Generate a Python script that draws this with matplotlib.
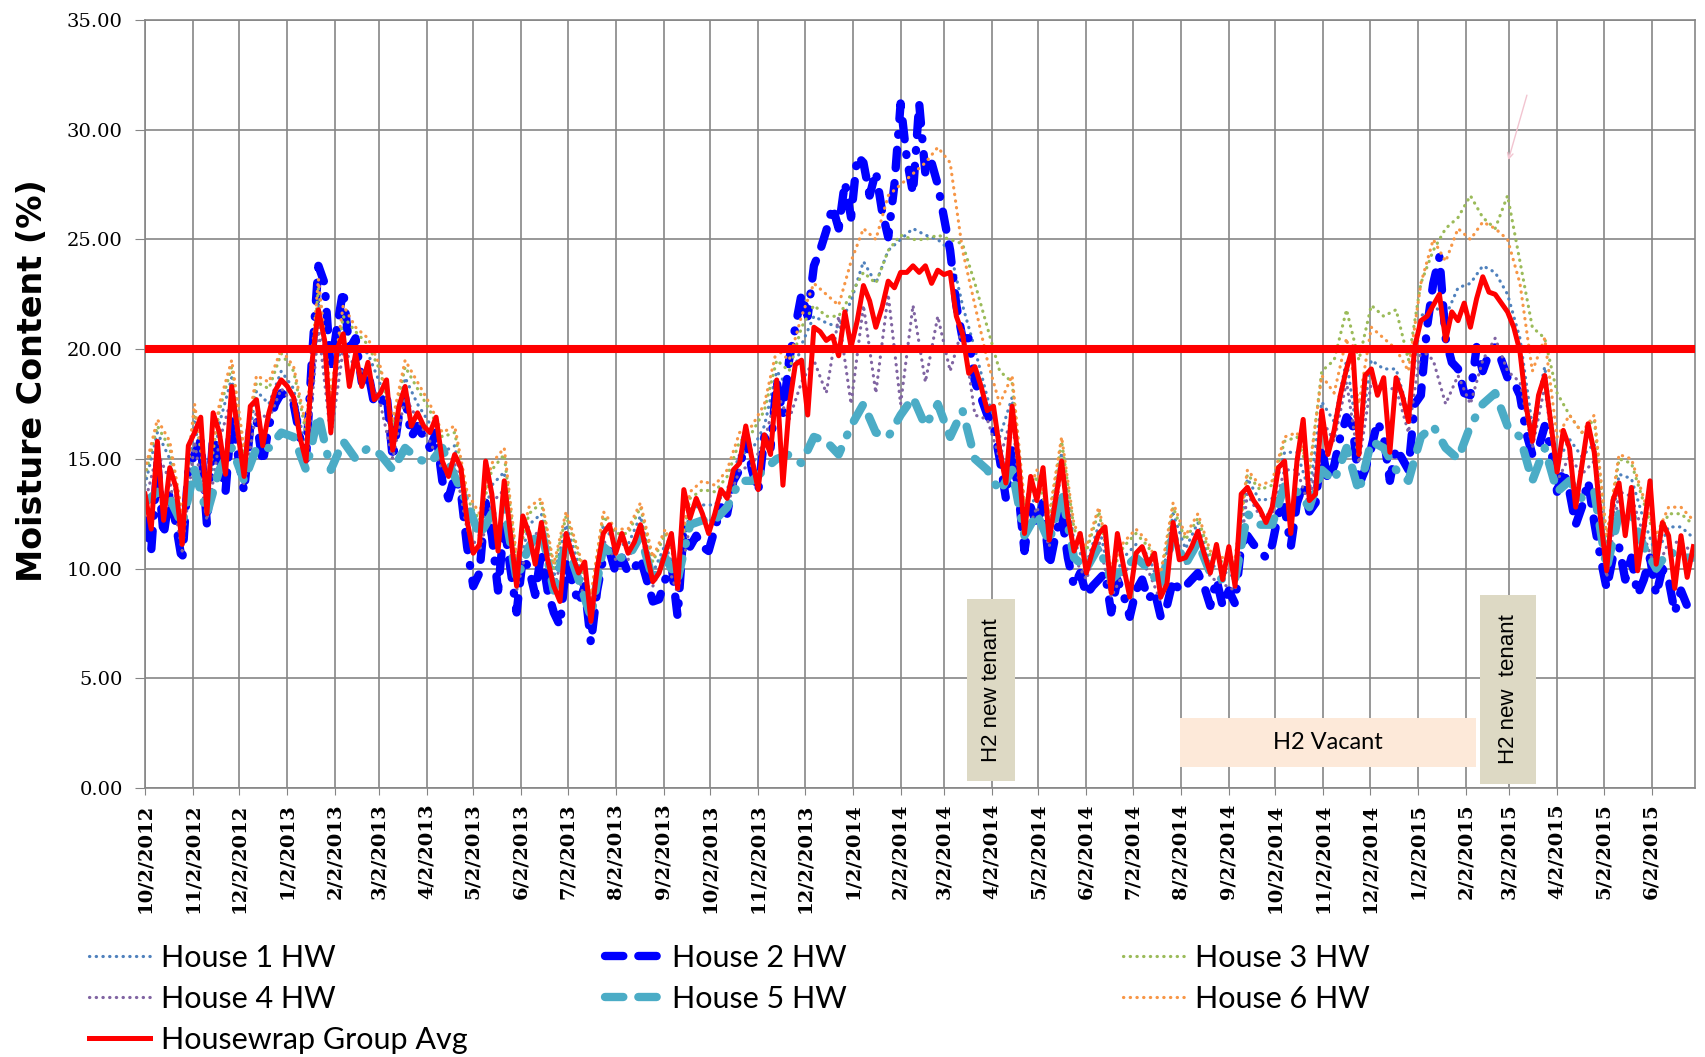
import datetime as dt
import numpy as np
import matplotlib.pyplot as plt
import matplotlib.dates as mdates
from matplotlib.patches import Rectangle

# readings taken off the chart: group avg + house 2 every 4 days, others every 8 days
start = mdates.date2num(dt.date(2012, 10, 2))

avg_hw = [
    13.4, 11.8, 15.8, 12.2, 14.6, 13.7, 11.1, 15.6, 16.2, 16.9,
    12.5, 17.1, 16.2, 14.3, 18.3, 16.2, 14.2, 17.4, 17.7, 15.6,
    17.1, 18.1, 18.6, 18.3, 17.8, 16.0, 14.9, 19.5, 21.8, 20.4,
    16.2, 20.0, 20.7, 18.3, 19.8, 18.3, 19.4, 17.7, 18.0, 18.6,
    15.4, 17.4, 18.3, 16.5, 17.1, 16.5, 16.2, 16.9, 14.9, 14.2,
    15.2, 14.6, 12.2, 10.7, 11.1, 14.9, 13.4, 10.8, 14.0, 11.6,
    9.2, 12.4, 11.6, 10.2,
    12.1, 10.4, 9.2, 8.5, 11.6, 10.6, 9.8, 10.3, 7.6, 10.0,
    11.6, 12.0, 10.7, 11.6, 10.7, 11.2, 12.0, 10.7, 9.4, 9.8,
    10.7, 11.6, 9.1, 13.6, 12.3, 13.2, 12.5, 11.6, 12.5, 13.6,
    13.2, 14.5, 14.8, 16.5, 15.0, 13.6, 16.1, 15.2, 18.6, 13.8,
    17.4, 19.3, 19.5, 17.0, 21.0, 20.8, 20.4, 20.6, 19.7, 21.7,
    20.1, 21.3, 22.9, 22.2, 21.0, 21.9, 23.1, 22.8, 23.5, 23.5,
    23.8, 23.5, 23.8,
    23.0, 23.6, 23.4, 23.5, 21.5, 20.7, 18.9, 19.2, 18.3, 17.2,
    17.4, 15.4, 13.9, 17.4, 15.0, 11.6, 14.2, 13.1, 14.6, 11.3,
    13.1, 14.9, 12.4, 10.8, 11.6, 9.8, 10.8, 11.6, 11.9, 8.9,
    11.6, 10.1, 8.7, 10.7, 11.0, 10.2, 10.7, 8.7, 9.3, 12.1,
    10.4, 10.5, 11.0, 11.7, 10.7, 9.8, 11.1, 9.5, 11.0, 9.2,
    13.4, 13.7, 13.1, 12.7, 12.1, 12.8, 14.6, 14.9, 11.6, 14.9,
    16.8, 13.1,
    13.4, 17.2, 15.2, 16.3, 17.9, 19.1, 20.1, 15.2, 18.8, 19.1,
    17.9, 18.7, 15.3, 18.7, 17.9, 16.7, 20.1, 21.3, 21.5, 22.0,
    22.5, 20.4, 21.7, 21.3, 22.1, 21.0, 22.3, 23.3, 22.6, 22.5,
    22.1, 21.7, 21.0, 19.9, 17.4, 15.8, 17.9, 18.8, 16.6, 14.4,
    16.3, 15.5, 12.8, 14.7, 16.6, 15.3, 12.3, 9.9, 13.1, 13.9,
    11.5, 13.7, 9.9, 11.8, 14.0, 10.2, 12.1, 11.5, 9.1, 11.5,
    9.6, 11.0]

house2 = [
    12.2, 10.8, 14.8, 11.5, 13.5, 12.0, 10.3, 14.5, 15.2, 15.8,
    12.0, 16.0, 15.0, 13.5, 17.0, 15.2, 13.5, 16.5, 16.8, 14.8,
    16.5, 17.5, 18.0, 17.8, 17.5, 16.0, 15.0, 19.8, 23.8, 23.0,
    19.0, 21.0, 22.7, 20.0, 20.5, 18.5, 19.0, 17.5, 17.5, 18.0,
    15.0, 17.0, 17.8, 16.0, 16.5, 16.0, 15.5, 16.2, 14.0, 13.2,
    14.2, 13.5, 11.0, 9.2, 9.8, 13.0, 11.5, 9.0, 12.0, 10.0,
    8.0, 10.5, 10.0, 8.8,
    10.8, 9.0, 8.0, 7.4, 10.2, 9.4, 8.4, 9.2, 6.6, 9.0,
    10.5, 10.8, 9.8, 10.5, 9.8, 10.0, 10.5, 9.5, 8.5, 8.6,
    9.5, 10.2, 7.8, 12.0, 11.0, 11.5, 11.0, 10.8, 11.8, 12.8,
    12.5, 14.0, 14.5, 16.0, 14.5, 13.5, 16.0, 15.5, 18.5, 17.0,
    19.5, 21.0, 22.5, 21.5, 23.8, 24.5, 25.4, 26.5, 25.5, 27.6,
    26.0, 28.8, 28.5, 27.0, 28.1, 26.3, 25.1, 27.5, 31.2, 28.7,
    27.1, 31.2, 28.0,
    28.5, 27.5, 26.0, 24.5, 22.0, 20.5, 20.5, 18.5, 17.8, 17.0,
    16.5, 15.0, 13.2, 15.5, 13.5, 10.8, 12.8, 12.0, 13.0, 10.1,
    11.5, 12.5, 10.5, 9.2, 9.8, 8.8, 9.2, 9.5, 9.8, 8.0,
    9.5, 8.8, 7.8, 9.0, 9.5, 8.6, 9.0, 7.8, 8.3, 9.5,
    9.0, 9.2, 9.5, 9.8, 9.2, 8.3, 9.5, 8.3, 9.0, 8.4,
    11.1, 11.5, 11.1, 10.8, 10.5, 11.1, 12.5, 12.8, 11.0, 13.0,
    13.8, 12.6,
    13.0, 15.5, 14.0, 14.7, 16.0, 16.9, 16.5, 13.8, 14.5, 15.5,
    16.7, 16.0, 14.0, 15.5, 15.0, 14.5, 17.5, 17.9, 21.0, 23.0,
    24.2, 20.5, 19.4, 19.1, 18.0, 17.9, 20.1, 19.0, 19.8, 20.1,
    19.5, 18.7, 18.5, 17.9, 16.2, 15.2, 15.5, 16.5, 15.5, 13.5,
    14.5, 13.5, 12.0, 12.8, 14.0, 12.1, 10.5, 9.1, 10.5, 11.0,
    9.5, 10.5, 8.8, 9.5, 10.5, 8.8, 10.0, 9.5, 8.0, 9.0,
    8.3, 8.8]

house1 = [
    13.8, 16.2, 15.0, 11.5, 16.7, 12.9, 16.6, 18.7, 14.6, 18.1, 17.5, 19.0, 18.2, 15.3, 22.3, 16.6,
    21.1, 20.2, 19.8, 18.4, 15.8, 18.7, 17.5, 16.6, 15.3, 15.6, 12.6, 11.5, 13.8, 14.4, 9.6, 12.0,
    12.5, 9.6, 12.0, 10.2, 8.0, 12.0, 11.1, 11.1, 12.4, 9.8, 11.1, 9.5, 12.7, 12.9, 12.9, 13.6,
    15.2, 15.4, 16.5, 19.0, 18.2, 20.2, 21.5, 21.2, 21.0, 22.2, 24.0, 23.0, 24.5, 25.0, 25.5, 25.2,
    25.0, 24.5, 22.0, 20.0, 17.8, 16.0, 17.8, 12.0, 13.5, 11.7, 15.3, 11.2, 10.2, 12.0, 9.3, 10.5,
    11.1, 10.6, 9.1, 12.5, 10.9, 12.1, 10.2, 9.9, 9.6, 14.1, 13.1, 13.2, 15.3, 15.3, 13.5,
    17.6, 16.7, 19.5, 15.6, 19.5, 19.1, 19.1, 17.1, 21.5, 22.0, 21.5, 22.8, 23.0, 23.8, 23.5, 22.5,
    20.5, 16.5, 19.2, 14.8, 15.9, 15.1, 15.7, 10.3, 14.3, 14.1, 12.2, 10.6, 11.9, 11.9, 11.4]

house3 = [
    14.2, 16.5, 15.5, 12.2, 17.2, 13.5, 17.2, 19.2, 15.2, 18.5, 18.2, 19.8, 19.0, 16.2, 22.8, 17.8,
    21.5, 20.8, 20.2, 19.0, 16.5, 19.2, 18.2, 17.2, 16.0, 16.2, 13.2, 12.2, 14.5, 15.2, 10.2, 12.5,
    13.0, 10.0, 12.4, 10.6, 8.5, 12.4, 11.6, 11.6, 12.8, 10.3, 11.6, 10.0, 13.2, 13.6, 13.5, 14.2,
    15.8, 16.2, 17.2, 19.5, 19.0, 21.0, 22.0, 21.5, 21.5, 22.5, 23.5, 23.0, 24.5, 25.2, 25.0, 25.0,
    25.2, 25.0, 24.8, 23.0, 21.0, 19.0, 18.5, 12.8, 14.2, 12.3, 15.8, 11.8, 10.8, 12.6, 9.8, 11.0,
    11.6, 11.0, 9.6, 12.8, 11.3, 12.3, 10.6, 10.3, 10.3, 14.3, 13.6, 13.8, 15.8, 16.0, 14.3,
    19.0, 19.5, 21.8, 19.5, 22.0, 21.5, 21.8, 19.5, 23.0, 24.5, 25.5, 26.0, 27.0, 26.0, 25.5, 27.0,
    24.0, 21.0, 20.5, 18.0, 17.0, 16.2, 16.8, 11.2, 15.0, 14.8, 13.0, 11.2, 12.5, 12.5, 12.0]

house4 = [
    13.0, 15.3, 14.0, 10.8, 15.8, 12.2, 15.8, 17.8, 13.8, 17.2, 16.8, 18.2, 17.5, 14.5, 21.0, 16.0,
    20.0, 19.2, 18.8, 17.5, 15.0, 17.8, 16.8, 15.8, 14.5, 14.8, 11.8, 10.8, 13.0, 13.6, 9.0, 11.3,
    11.8, 9.0, 11.3, 9.6, 7.5, 11.3, 10.4, 10.4, 11.7, 9.2, 10.4, 8.9, 12.0, 12.2, 12.2, 12.9,
    14.5, 14.7, 15.8, 18.0, 16.8, 18.5, 19.5, 18.0, 21.5, 17.5, 22.0, 18.0, 22.5, 17.5, 22.0, 18.5,
    21.5, 19.0, 21.0, 17.0, 16.8, 15.0, 17.0, 11.3, 12.8, 11.0, 14.5, 10.5, 9.5, 11.3, 8.7, 9.8,
    10.4, 9.9, 8.5, 11.8, 10.2, 11.4, 9.6, 9.3, 9.0, 13.4, 12.4, 12.5, 14.5, 14.5, 12.8,
    16.8, 15.8, 18.5, 14.8, 18.5, 18.2, 18.2, 16.2, 20.0, 19.5, 17.5, 18.8, 17.5, 19.5, 20.5, 19.0,
    18.5, 15.5, 18.3, 14.0, 15.1, 14.3, 14.9, 9.6, 13.5, 13.3, 11.5, 9.9, 11.2, 11.2, 10.7]

house5 = [
    13.0, 13.5, 13.2, 12.0, 14.5, 12.5, 14.5, 15.5, 14.0, 15.5, 15.5, 16.2, 16.0, 14.5, 17.0, 14.5,
    15.8, 15.0, 15.5, 15.2, 14.5, 15.5, 15.0, 14.8, 15.5, 14.2, 13.0, 11.5, 12.5, 12.8, 9.5, 11.0,
    11.8, 9.0, 11.2, 9.5, 7.8, 11.0, 10.5, 10.5, 11.5, 9.5, 10.5, 9.5, 12.0, 12.2, 12.2, 12.8,
    14.0, 14.0, 14.5, 15.0, 15.2, 14.8, 16.0, 15.8, 15.2, 16.5, 17.5, 16.2, 16.0, 17.0, 17.8, 16.5,
    17.5, 16.0, 17.2, 15.0, 14.5, 13.5, 14.5, 11.5, 12.5, 11.2, 13.5, 10.5, 10.0, 11.0, 9.5, 10.0,
    10.5, 10.0, 9.2, 11.5, 10.2, 11.2, 9.8, 9.5, 9.5, 12.5, 12.0, 12.0, 13.8, 13.5, 12.8,
    14.5, 14.0, 15.5, 13.5, 15.8, 15.5, 14.5, 14.0, 16.0, 16.5, 15.5, 15.0, 16.5, 17.5, 18.0, 16.5,
    16.0, 14.0, 15.5, 13.5, 14.0, 13.2, 13.5, 10.0, 12.5, 12.5, 11.0, 10.0, 10.8, 10.5, 10.5]

house6 = [
    14.5, 16.8, 15.8, 12.5, 17.5, 13.8, 17.5, 19.5, 15.5, 18.8, 18.5, 20.0, 19.2, 16.5, 23.2, 18.0,
    22.0, 21.0, 20.5, 19.2, 16.8, 19.5, 18.5, 17.5, 16.2, 16.5, 13.5, 12.5, 14.8, 15.5, 10.5, 12.8,
    13.2, 10.2, 12.6, 10.8, 8.8, 12.6, 11.8, 11.8, 13.0, 10.5, 11.8, 10.2, 13.5, 14.0, 13.8, 14.5,
    16.2, 16.5, 17.5, 20.0, 19.5, 21.5, 23.0, 22.5, 22.0, 24.0, 25.5, 25.0, 27.0, 27.5, 28.0, 28.5,
    29.2, 28.5, 24.5, 22.0, 19.5, 17.5, 18.8, 13.0, 14.5, 12.5, 16.0, 12.0, 11.0, 12.8, 10.0, 11.2,
    11.8, 11.2, 9.8, 13.0, 11.5, 12.5, 10.8, 10.5, 10.5, 14.5, 13.8, 14.0, 16.0, 16.2, 14.5,
    18.8, 18.0, 20.5, 17.5, 21.0, 20.5, 20.0, 19.0, 23.0, 25.0, 24.0, 25.5, 25.0, 25.8, 25.5, 25.0,
    23.0, 19.0, 20.5, 16.0, 17.0, 16.2, 17.0, 11.5, 15.2, 15.0, 13.2, 11.5, 12.8, 12.8, 12.2]

limit_mc = 20.0

tick_months = [(2012 + (9 + k) // 12, (9 + k) % 12 + 1) for k in range(33)]
tick_labels = [f"{m}/2/{y}" for y, m in tick_months]

t4 = start + 4 * np.arange(len(avg_hw))
t8 = start + 8 * np.arange(len(house1))

fig = plt.figure(figsize=(17.06, 10.57), dpi=100)
ax = fig.add_axes([0.085, 0.2545, 0.9085, 0.7265])

dot = (0, (0.1, 2.0))
dsh = (0, (2.2, 1.8, 2.2, 1.8, 0.1, 1.8))

l1, = ax.plot(t8, house1, color='#4f81bd', lw=2.3, ls=dot, dash_capstyle='round', label='House 1 HW')
l2, = ax.plot(t4, house2, color='#0000ff', lw=6, ls=dsh, dash_capstyle='round', label='House 2 HW')
l3, = ax.plot(t8, house3, color='#9bbb59', lw=2.3, ls=dot, dash_capstyle='round', label='House 3 HW')
l4, = ax.plot(t8, house4, color='#8064a2', lw=2.3, ls=dot, dash_capstyle='round', label='House 4 HW')
l5, = ax.plot(t8, house5, color='#4bacc6', lw=6, ls=dsh, dash_capstyle='round', label='House 5 HW')
l6, = ax.plot(t8, house6, color='#f79646', lw=2.3, ls=dot, dash_capstyle='round', label='House 6 HW')
l7, = ax.plot(t4, avg_hw, color='#ff0000', lw=3.6, label='Housewrap Group Avg')
ax.axhline(limit_mc, color='#ff0000', lw=5.8, zorder=5)

ax.set_xlim(start, start + 1001)
ax.set_ylim(0, 35)
ticks = [mdates.date2num(dt.date(y, m, 2)) for y, m in tick_months]
ax.set_xticks(ticks)
ax.set_xticklabels(tick_labels, rotation=90, family='DejaVu Serif', fontweight='bold', fontsize=14)
ax.set_yticks(np.arange(0, 36, 5))
ax.set_yticklabels([f"{v:.2f}" for v in range(0, 36, 5)], family='DejaVu Serif', fontsize=14)
ax.tick_params(axis='x', length=5, pad=6, color='#858585')
ax.tick_params(axis='y', length=7, pad=9, color='#858585')
ax.grid(True, color='#868686', lw=1.2)
ax.set_axisbelow(True)
for s in ax.spines.values():
    s.set_color('#868686')
    s.set_linewidth(1.2)

fig.text(33 / 1706, 0.6396, 'Moisture Content (%)', rotation=90, ha='center', va='center',
         fontsize=24, fontweight='bold', family='DejaVu Sans')

# notes on the plot
ax.add_patch(Rectangle((start + 531, 0.3), 31, 8.3, facecolor='#ddd9c4', edgecolor='none', zorder=6))
ax.text(start + 546.5, 4.45, 'H2 new tenant', rotation=90, ha='center', va='center',
        fontsize=16, family='Liberation Sans', zorder=7)
ax.add_patch(Rectangle((start + 668.5, 0.96), 191, 2.23, facecolor='#fde9d9', edgecolor='none', zorder=6))
ax.text(start + 764, 2.07, 'H2 Vacant', ha='center', va='center', fontsize=17, family='Lato', zorder=7)
ax.add_patch(Rectangle((start + 862.5, 0.18), 36, 8.62, facecolor='#ddd9c4', edgecolor='none', zorder=6))
ax.text(start + 880.5, 4.5, 'H2 new  tenant', rotation=90, ha='center', va='center',
        fontsize=16, family='Liberation Sans', zorder=7)
ax.annotate('', xy=(start + 880, 28.5), xytext=(start + 893, 31.7),
            arrowprops=dict(arrowstyle='->', color='#f2c4d0', lw=1))

leg_kw = dict(loc='upper left', frameon=False, borderpad=0, borderaxespad=0,
              prop={'family': 'Lato', 'size': 22}, labelspacing=0.42, handlelength=2.0)
fig.legend([l1, l4, l7], [l1.get_label(), l4.get_label(), l7.get_label()],
           bbox_to_anchor=(89 / 1706, 0.107), handletextpad=0.35, **leg_kw)
fig.legend([l2, l5], [l2.get_label(), l5.get_label()],
           bbox_to_anchor=(605 / 1706, 0.107), handletextpad=0.2, **leg_kw)
fig.legend([l3, l6], [l3.get_label(), l6.get_label()],
           bbox_to_anchor=(1123 / 1706, 0.107), handletextpad=0.35, **leg_kw)

fig.savefig('out.png', dpi=100)
